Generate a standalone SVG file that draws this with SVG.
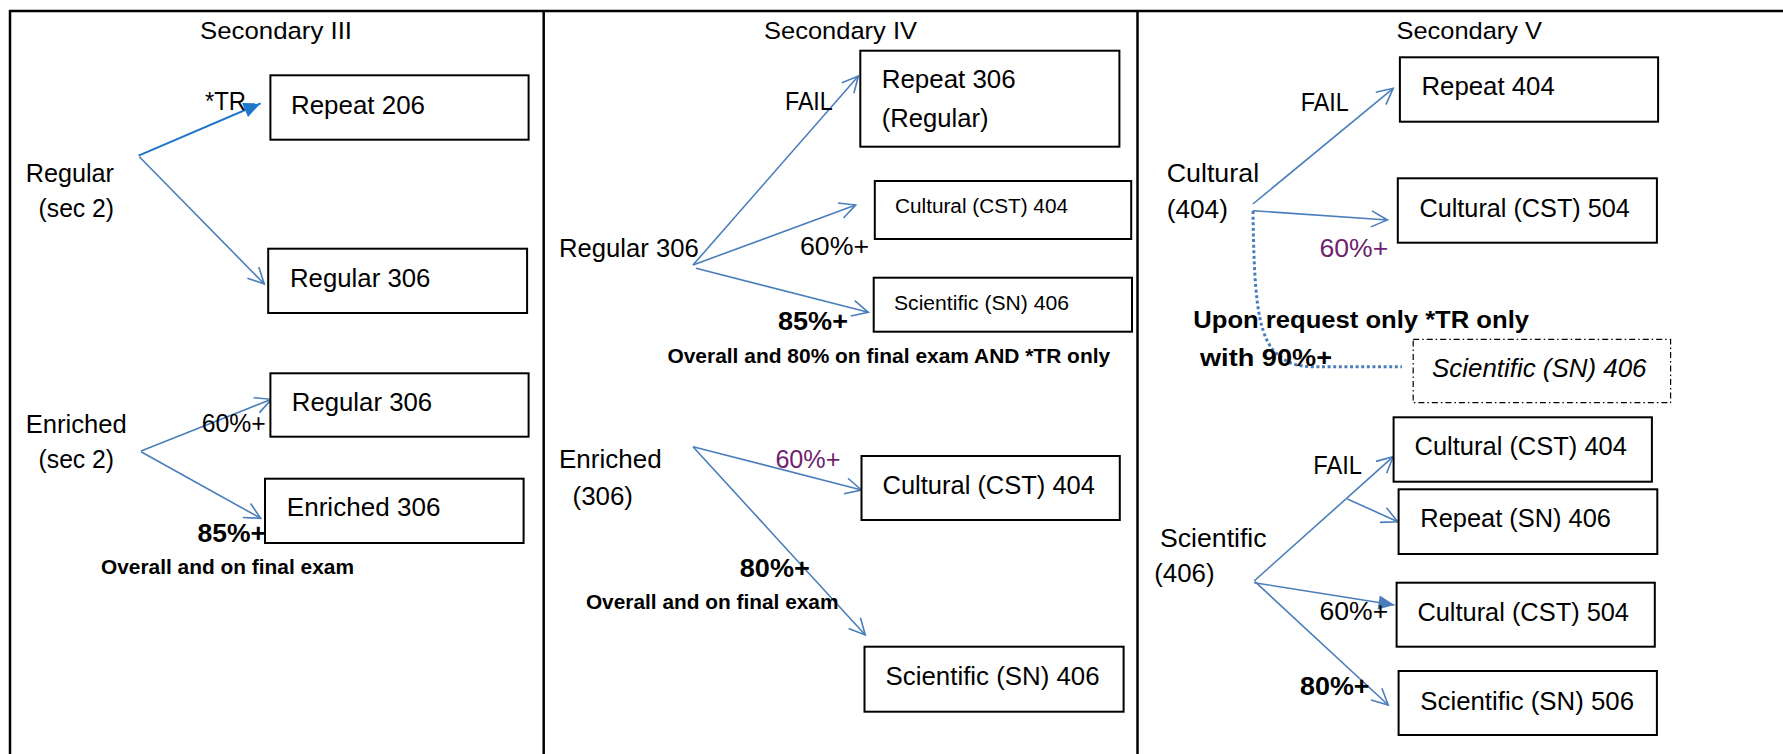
<svg xmlns="http://www.w3.org/2000/svg" width="1783" height="754" viewBox="0 0 1783 754">
<style>
text{font-family:"Liberation Sans",Arial,sans-serif;font-size:26px;fill:#000}
.h{font-size:24.5px}
.s{font-size:20px}
.b{font-weight:bold}
.n{font-size:20.5px;font-weight:bold}
.p{fill:#6E1F6E}
.i{font-style:italic}
.box{fill:#fff;stroke:#000;stroke-width:2}
.dd{fill:#fff;stroke:#000;stroke-width:1.2;stroke-dasharray:6 3 1.5 3}
.frame{stroke:#000;stroke-width:2.5;fill:none}
.c{stroke:#4A7EBB;stroke-width:1.6;fill:none;marker-end:url(#open)}
</style>
<defs>
<marker id="open" viewBox="-18 -10 20 20" refX="0" refY="0" markerWidth="20" markerHeight="20" markerUnits="userSpaceOnUse" orient="auto" overflow="visible">
<path d="M-16,-8 L0,0 L-16,8" fill="none" stroke="#4A7EBB" stroke-width="1.6"/>
</marker>
<marker id="fillb" viewBox="-18 -10 20 20" refX="0" refY="0" markerWidth="20" markerHeight="20" markerUnits="userSpaceOnUse" orient="auto" overflow="visible">
<path d="M-17,-7.5 L0,0 L-17,7.5 Z" fill="#1F75CC"/>
</marker>
<marker id="fill" viewBox="-18 -10 20 20" refX="0" refY="0" markerWidth="20" markerHeight="20" markerUnits="userSpaceOnUse" orient="auto" overflow="visible">
<path d="M-16,-7 L0,0 L-16,7 Z" fill="#4A7EBB"/>
</marker>
</defs>
<rect width="1783" height="754" fill="#fff"/>
<g id="frame">
<line class="frame" x1="9" y1="11" x2="1783" y2="11"/>
<line class="frame" x1="10" y1="10" x2="10" y2="754"/>
<line class="frame" x1="543.7" y1="10" x2="543.7" y2="754"/>
<line class="frame" x1="1137.5" y1="10" x2="1137.5" y2="754"/>
</g>
<g id="headers">
<text class="h" x="200" y="38.5" textLength="152" lengthAdjust="spacingAndGlyphs">Secondary III</text>
<text class="h" x="764" y="38.5" textLength="153" lengthAdjust="spacingAndGlyphs">Secondary IV</text>
<text class="h" x="1396.5" y="38.5" textLength="145.5" lengthAdjust="spacingAndGlyphs">Secondary V</text>
</g>
<g id="connectors">
<line x1="138.6" y1="155.7" x2="260.7" y2="103.3" stroke="#1F75CC" stroke-width="2" marker-end="url(#fillb)"/>
<line class="c" x1="139.3" y1="156.7" x2="264.3" y2="284"/>
<line class="c" x1="141" y1="451" x2="271.4" y2="399.3"/>
<line class="c" x1="141" y1="451.7" x2="260.7" y2="518.3"/>
<line class="c" x1="693" y1="265" x2="858.4" y2="76"/>
<line class="c" x1="693" y1="265" x2="855.7" y2="205"/>
<line class="c" x1="696" y1="268.3" x2="868.3" y2="312.3"/>
<line class="c" x1="693" y1="446.7" x2="861.5" y2="490"/>
<line class="c" x1="693" y1="446.7" x2="865.3" y2="635"/>
<line class="c" x1="1252.9" y1="204" x2="1393.2" y2="88.3"/>
<line class="c" x1="1252.9" y1="210.7" x2="1387.4" y2="220"/>
<path d="M1253,211 C1254,290 1257,330 1273,350 C1284,362 1296,366.7 1312,366.7 L1402,366.7" fill="none" stroke="#4A7EBB" stroke-width="3" stroke-dasharray="3 2.6"/>
<line class="c" x1="1254.1" y1="581" x2="1393.2" y2="456.7"/>
<line class="c" x1="1347.4" y1="499" x2="1397.8" y2="521.7"/>
<line x1="1254.1" y1="582.7" x2="1394.5" y2="605" stroke="#4A7EBB" stroke-width="1.6" marker-end="url(#fill)"/>
<line class="c" x1="1255" y1="581.7" x2="1388.2" y2="705"/>
</g>
<g id="labels">
<text x="205" y="110" textLength="41" lengthAdjust="spacingAndGlyphs">*TR</text>
<text x="201.8" y="431.7" textLength="64" lengthAdjust="spacingAndGlyphs">60%+</text>
<text class="b" x="197.5" y="541.7" textLength="68.5" lengthAdjust="spacingAndGlyphs">85%+</text>
<text class="n" x="101" y="574" textLength="253" lengthAdjust="spacingAndGlyphs">Overall and on final exam</text>
<text x="785" y="110" textLength="47.7" lengthAdjust="spacingAndGlyphs">FAIL</text>
<text x="800" y="255" textLength="69" lengthAdjust="spacingAndGlyphs">60%+</text>
<text class="b" x="778" y="330" textLength="70" lengthAdjust="spacingAndGlyphs">85%+</text>
<text class="n" x="667.4" y="362.7" textLength="442.8" lengthAdjust="spacingAndGlyphs">Overall and 80% on final exam AND *TR only</text>
<text class="p" x="775.4" y="468.3" textLength="65" lengthAdjust="spacingAndGlyphs">60%+</text>
<text class="b" x="739.8" y="577.3" textLength="70" lengthAdjust="spacingAndGlyphs">80%+</text>
<text class="n" x="585.9" y="609.3" textLength="252.6" lengthAdjust="spacingAndGlyphs">Overall and on final exam</text>
<text x="1300.8" y="111" textLength="48" lengthAdjust="spacingAndGlyphs">FAIL</text>
<text class="p" x="1319.5" y="256.7" textLength="68.7" lengthAdjust="spacingAndGlyphs">60%+</text>
<text class="b" x="1193.3" y="328.3" style="font-size:23px" textLength="335.7" lengthAdjust="spacingAndGlyphs">Upon request only *TR only</text>
<text class="b" x="1200" y="366" style="font-size:23px" textLength="132" lengthAdjust="spacingAndGlyphs">with 90%+</text>
<text x="1313.3" y="474" textLength="48.7" lengthAdjust="spacingAndGlyphs">FAIL</text>
<text x="1319.5" y="620" textLength="68.7" lengthAdjust="spacingAndGlyphs">60%+</text>
<text class="b" x="1300" y="695" textLength="69.5" lengthAdjust="spacingAndGlyphs">80%+</text>
</g>
<g id="src-regular-sec2">
<text x="25.7" y="181.7" textLength="88.3" lengthAdjust="spacingAndGlyphs">Regular</text>
<text x="38.6" y="216.7" textLength="75.4" lengthAdjust="spacingAndGlyphs">(sec 2)</text>
</g>
<g id="src-enriched-sec2">
<text x="25.7" y="432.7" textLength="101" lengthAdjust="spacingAndGlyphs">Enriched</text>
<text x="38.6" y="468.3" textLength="75.4" lengthAdjust="spacingAndGlyphs">(sec 2)</text>
</g>
<g id="n-repeat206">
<rect class="box" x="270.4" y="75.3" width="258.2" height="64.4"/>
<text x="291" y="114" textLength="134" lengthAdjust="spacingAndGlyphs">Repeat 206</text>
</g>
<g id="n-regular306-a">
<rect class="box" x="268.2" y="248.7" width="258.9" height="64.3"/>
<text x="290" y="286.7" textLength="140.4" lengthAdjust="spacingAndGlyphs">Regular 306</text>
</g>
<g id="n-regular306-b">
<rect class="box" x="270.4" y="373.3" width="258.2" height="63.4"/>
<text x="291.8" y="410.7" textLength="140.3" lengthAdjust="spacingAndGlyphs">Regular 306</text>
</g>
<g id="n-enriched306">
<rect class="box" x="265" y="478.7" width="258.6" height="64.3"/>
<text x="286.8" y="515.7" textLength="153.6" lengthAdjust="spacingAndGlyphs">Enriched 306</text>
</g>
<g id="src-regular306">
<text x="559" y="256.7" textLength="139.7" lengthAdjust="spacingAndGlyphs">Regular 306</text>
</g>
<g id="src-enriched306">
<text x="559" y="468.3" textLength="102.6" lengthAdjust="spacingAndGlyphs">Enriched</text>
<text x="572.5" y="505" textLength="60.5" lengthAdjust="spacingAndGlyphs">(306)</text>
</g>
<g id="n-repeat306">
<rect class="box" x="860.3" y="50.7" width="259.1" height="96"/>
<text x="881.7" y="88.3" textLength="134" lengthAdjust="spacingAndGlyphs">Repeat 306</text>
<text x="881.7" y="126.7" textLength="106.8" lengthAdjust="spacingAndGlyphs">(Regular)</text>
</g>
<g id="n-cst404-a">
<rect class="box" x="874.8" y="181" width="256.4" height="58"/>
<text class="s" x="895" y="213.3" textLength="173" lengthAdjust="spacingAndGlyphs">Cultural (CST) 404</text>
</g>
<g id="n-sn406-a">
<rect class="box" x="873.7" y="277.7" width="258.3" height="54"/>
<text class="s" x="894" y="310" textLength="175" lengthAdjust="spacingAndGlyphs">Scientific (SN) 406</text>
</g>
<g id="n-cst404-b">
<rect class="box" x="861.5" y="456" width="258.3" height="64"/>
<text x="882.5" y="494" textLength="212.4" lengthAdjust="spacingAndGlyphs">Cultural (CST) 404</text>
</g>
<g id="n-sn406-b">
<rect class="box" x="864.5" y="646.7" width="259.1" height="65"/>
<text x="885.6" y="685" textLength="214" lengthAdjust="spacingAndGlyphs">Scientific (SN) 406</text>
</g>
<g id="src-cultural404">
<text x="1166.7" y="181.7" textLength="92.4" lengthAdjust="spacingAndGlyphs">Cultural</text>
<text x="1166.7" y="218.3" textLength="61.2" lengthAdjust="spacingAndGlyphs">(404)</text>
</g>
<g id="src-scientific406">
<text x="1160" y="546.7" textLength="106.6" lengthAdjust="spacingAndGlyphs">Scientific</text>
<text x="1154.2" y="581.7" textLength="60.4" lengthAdjust="spacingAndGlyphs">(406)</text>
</g>
<g id="n-repeat404">
<rect class="box" x="1399.9" y="57.3" width="258.2" height="64.4"/>
<text x="1421.5" y="95" textLength="133.3" lengthAdjust="spacingAndGlyphs">Repeat 404</text>
</g>
<g id="n-cst504-a">
<rect class="box" x="1397.8" y="178.3" width="259.1" height="64.4"/>
<text x="1419.5" y="216.7" textLength="210.3" lengthAdjust="spacingAndGlyphs">Cultural (CST) 504</text>
</g>
<g id="n-sn406-c">
<rect class="dd" x="1413.2" y="339.3" width="257.4" height="63.4"/>
<text class="i" x="1432" y="376.7" textLength="214.5" lengthAdjust="spacingAndGlyphs">Scientific (SN) 406</text>
</g>
<g id="n-cst404-c">
<rect class="box" x="1393.6" y="417.3" width="258.3" height="64.4"/>
<text x="1414.5" y="455" textLength="212.4" lengthAdjust="spacingAndGlyphs">Cultural (CST) 404</text>
</g>
<g id="n-repeatsn406">
<rect class="box" x="1398.6" y="489.3" width="258.7" height="64.7"/>
<text x="1420.3" y="527.3" textLength="190.7" lengthAdjust="spacingAndGlyphs">Repeat (SN) 406</text>
</g>
<g id="n-cst504-b">
<rect class="box" x="1396.6" y="582.7" width="258.2" height="64"/>
<text x="1417.4" y="620.7" textLength="211.6" lengthAdjust="spacingAndGlyphs">Cultural (CST) 504</text>
</g>
<g id="n-sn506">
<rect class="box" x="1398.6" y="671" width="258.3" height="64"/>
<text x="1420.3" y="710" textLength="213.7" lengthAdjust="spacingAndGlyphs">Scientific (SN) 506</text>
</g>
</svg>
